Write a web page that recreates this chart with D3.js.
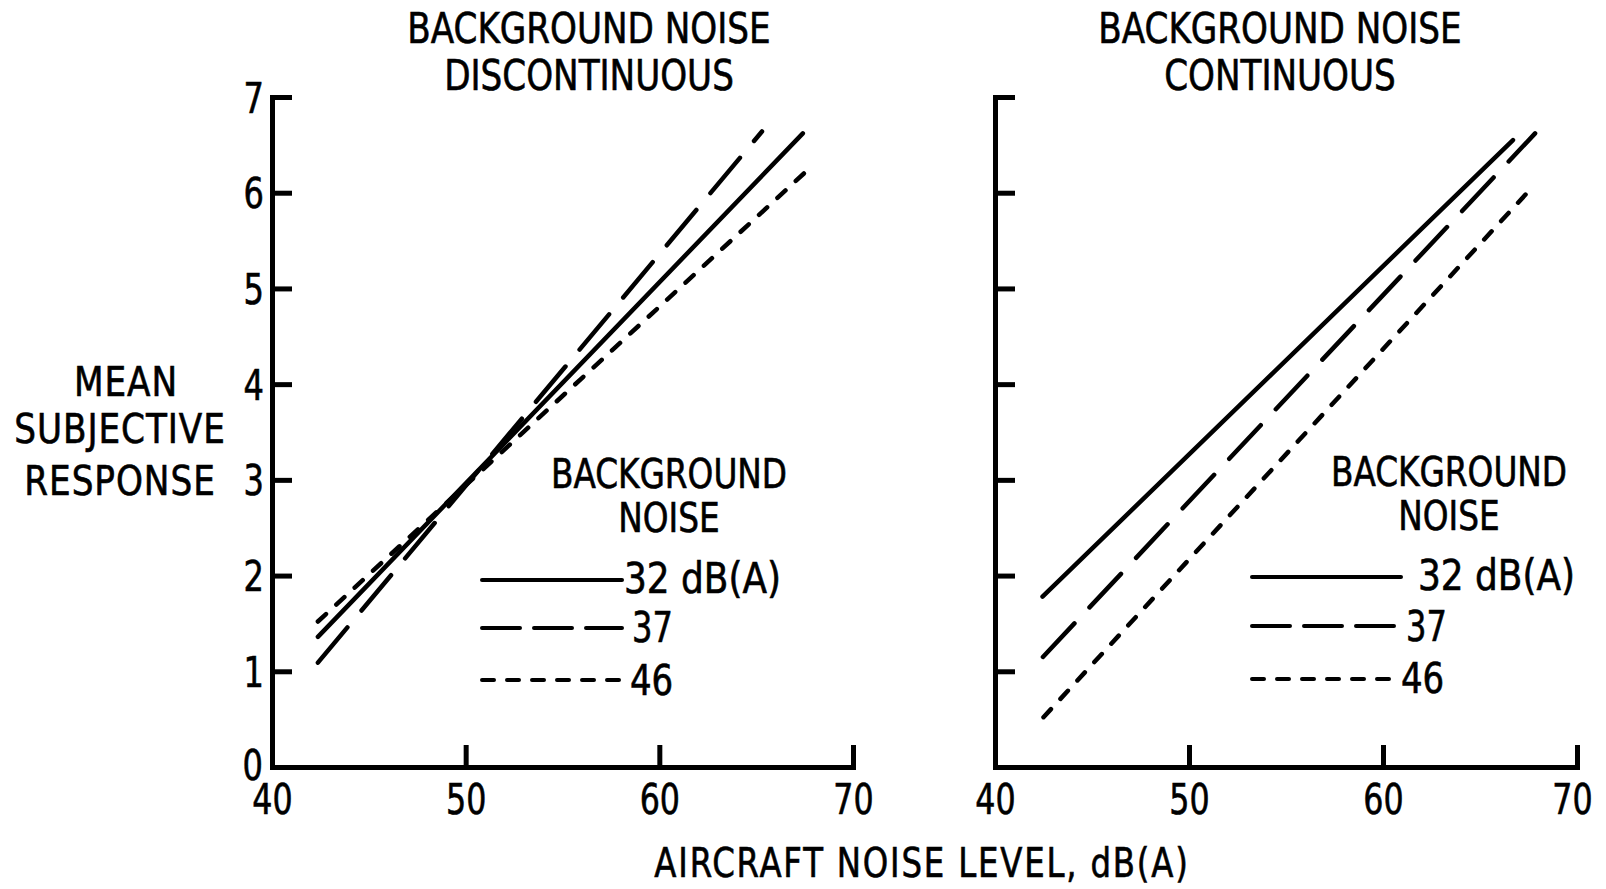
<!DOCTYPE html>
<html><head><meta charset="utf-8">
<script src="https://cdn.jsdelivr.net/npm/d3@7"></script>
<style>
body{margin:0;background:#fff}
text{font-family:"Liberation Sans Narrow","DejaVu Sans Condensed",sans-serif;fill:#000;stroke:#000;stroke-width:0.6px}
</style>
</head><body><svg id="c" width="1606" height="889"></svg>
<script>
// ---- data ----
const xTicks = [40, 50, 60, 70];
const yTicks = [0, 1, 2, 3, 4, 5, 6, 7];
const seriesNames = ["32 dB(A)", "37", "46"];
// Discontinuous background noise: line endpoints (aircraft dB(A), response)
const discX = [[42.37, 67.41], [42.37, 65.30], [42.37, 67.78]];
const discY = [[1.36, 6.62], [1.09, 6.64], [1.52, 6.26]];
// Continuous background noise
const contX = [[42.45, 66.70], [42.47, 67.84], [42.50, 67.80]];
const contY = [[1.78, 6.55], [1.15, 6.62], [0.52, 6.08]];
const panelTitles = [["BACKGROUND NOISE", "DISCONTINUOUS"], ["BACKGROUND NOISE", "CONTINUOUS"]];
const yLabel = ["MEAN", "SUBJECTIVE", "RESPONSE"];
const xLabel = "AIRCRAFT NOISE LEVEL, dB(A)";
const legendTitle = ["BACKGROUND", "NOISE"];

// ---- drawing ----
const svg = d3.select("#c");
const dashes = [null, "46,22", "11,14"];
const legendDashes = [null, "38,14", "12,13"];

function txt(parent, x, y, str, size, sx, anchor, ls) {
  return parent.append("text")
    .attr("transform", `translate(${x},${y}) scale(${sx},1)`)
    .attr("text-anchor", anchor || "start")
    .attr("font-size", size)
    .attr("letter-spacing", ls || 0)
    .text(str);
}

const panels = [
  {x0: 272, x1: 853, xs: discX, ys: discY, labels: true, titleX: 589,
   leg: {lx0: 482, lx1: 622, lys: [580, 628, 680], tx: [624, 632, 630], tsx: [0.95, 0.85, 0.9], tby: [593, 642, 695], hx: 669, hy: [488, 532]}},
  {x0: 995, x1: 1577, xs: contX, ys: contY, labels: false, titleX: 1280,
   leg: {lx0: 1252, lx1: 1401, lys: [577, 626, 679], tx: [1418, 1406, 1401], tsx: [0.95, 0.85, 0.9], tby: [590, 641, 693], hx: 1449, hy: [486, 530]}}
];

const y = d3.scaleLinear().domain([0, 7]).range([767, 97]);

panels.forEach((p, pi) => {
  const x = d3.scaleLinear().domain([40, 70]).range([p.x0, p.x1]);
  const g = svg.append("g");

  // y axis
  const ya = g.append("g").attr("transform", `translate(${p.x0},0)`)
    .call(d3.axisLeft(y).tickValues(yTicks).tickSizeInner(-20).tickSizeOuter(0).tickPadding(12)
      .tickFormat(p.labels ? d3.format("d") : () => ""));
  // x axis
  const xa = g.append("g").attr("transform", `translate(0,${y(0)})`)
    .call(d3.axisBottom(x).tickValues(xTicks).tickSizeInner(-22).tickSizeOuter(0).tickPadding(0)
      .tickFormat(d3.format("d")));

  [ya, xa].forEach(a => {
    a.select(".domain").attr("stroke", "#000").attr("stroke-width", 5).attr("stroke-linecap", "square");
    a.selectAll(".tick line").attr("stroke", "#000").attr("stroke-width", 5);
    a.selectAll("text").attr("font-size", 42).attr("font-family", null).attr("fill", null);
  });
  ya.selectAll(".tick text").attr("dy", "0.36em").attr("x", 0)
    .attr("transform", d => d === 0 ? "translate(-9,-3) scale(0.85,1)" : "translate(-8,0) scale(0.85,1)");
  xa.selectAll(".tick text").attr("dy", null).attr("y", 47)
    .attr("transform", (d, i) => (pi === 1 && d === 70) ? "translate(-5,0) scale(0.84,1)" : "scale(0.84,1)");

  // series lines
  const line = d3.line().x(d => x(d[0])).y(d => y(d[1]));
  seriesNames.forEach((s, i) => {
    const pts = p.xs[i].map((xv, k) => [xv, p.ys[i][k]]);
    g.append("path").datum(pts).attr("d", line)
      .attr("fill", "none").attr("stroke", "#000").attr("stroke-width", 4.5)
      .attr("stroke-linecap", "round")
      .attr("stroke-dasharray", dashes[i]);
  });

  // titles
  panelTitles[pi].forEach((t, k) => {
    txt(g, p.titleX, 43 + k * 47, t, 42, 0.905, "middle");
  });

  // legend
  const L = p.leg;
  legendTitle.forEach((t, k) => {
    txt(g, L.hx, L.hy[k], t, 40, 0.91, "middle");
  });
  seriesNames.forEach((s, i) => {
    g.append("line").attr("x1", L.lx0).attr("x2", L.lx1).attr("y1", L.lys[i]).attr("y2", L.lys[i])
      .attr("stroke", "#000").attr("stroke-width", 4).attr("stroke-linecap", "round")
      .attr("stroke-dasharray", legendDashes[i]);
    txt(g, L.tx[i], L.tby[i], s, 42, L.tsx[i], "start");
  });
});

// y label
yLabel.forEach((t, k) => {
  txt(svg, [126, 120, 120][k], [396, 443, 495][k], t, 41, 0.93, "middle", 1);
});
// x label
txt(svg, 922, 877, xLabel, 40, 0.9, "middle", 2);
</script>
</body></html>
